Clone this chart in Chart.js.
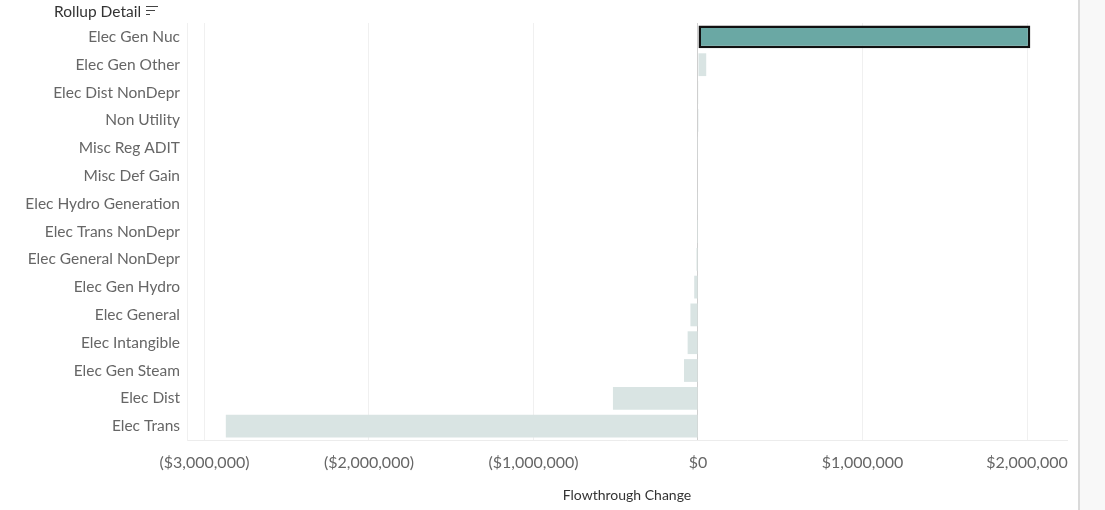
<!DOCTYPE html>
<html><head><meta charset="utf-8">
<script src="https://cdn.jsdelivr.net/npm/chart.js@4"></script>
<style>
html,body{margin:0;padding:0;background:#fff;width:1105px;height:510px;overflow:hidden;font-family:Lato, "Open Sans", sans-serif;}
#wrap{position:absolute;left:0;top:0;width:1105px;height:510px;}
#title{position:absolute;left:54px;top:2px;font-size:15.5px;color:#333;font-family:Lato,sans-serif;}
#icon{display:inline-block;vertical-align:middle;margin-left:5px;position:relative;top:-2px;width:12px;height:11px;}
#icon span{display:block;height:1.7px;background:#444;margin-bottom:2.3px;}
#sideline{position:absolute;left:1078px;top:0;width:2px;height:510px;background:#dadada;}
#side{position:absolute;left:1080px;top:0;width:25px;height:510px;background:#f8f8f8;}
</style></head>
<body>
<div id="wrap"><canvas id="c" width="1105" height="510"></canvas></div>
<div id="title">Rollup Detail<span id="icon"><span style="width:12px"></span><span style="width:9px"></span><span style="width:4px"></span></span></div>
<div id="sideline"></div><div id="side"></div>
<script>
const categories = ["Elec Gen Nuc","Elec Gen Other","Elec Dist NonDepr","Non Utility","Misc Reg ADIT","Misc Def Gain","Elec Hydro Generation","Elec Trans NonDepr","Elec General NonDepr","Elec Gen Hydro","Elec General","Elec Intangible","Elec Gen Steam","Elec Dist","Elec Trans"];
const flowthroughChange = [2020000, 50000, 2000, 1000, -2000, -3000, -4000, -6000, -9000, -23000, -46000, -63000, -85000, -517000, -2870000];
const tickValues = [-3000000, -2000000, -1000000, 0, 1000000, 2000000];
const highlighted = "Elec Gen Nuc";

function fmtMoney(v){
  const s = "$" + Math.abs(v).toLocaleString("en-US");
  return v < 0 ? "(" + s + ")" : s;
}

const fontFam = "Lato, 'Open Sans', sans-serif";
new Chart(document.getElementById("c"), {
  type: "bar",
  data: {
    labels: categories,
    datasets: [{
      data: flowthroughChange,
      backgroundColor: categories.map(c => c === highlighted ? "#6aa8a4" : "#d9e4e3"),
      borderColor: categories.map(c => c === highlighted ? "#111" : "rgba(0,0,0,0)"),
      borderWidth: categories.map(c => c === highlighted ? 2.5 : 0),
      borderSkipped: false,
      categoryPercentage: 1,
      barPercentage: categories.map(c => c === highlighted ? 0.82 : 0.74)
    }]
  },
  options: {
    indexAxis: "y",
    responsive: false,
    animation: false,
    layout: { padding: { left: 0, right: 38, top: 23, bottom: 0 } },
    plugins: { legend: { display: false }, tooltip: { enabled: false } },
    scales: {
      x: {
        min: -3106000, max: 2243000,
        afterBuildTicks: s => { s.ticks = tickValues.map(v => ({ value: v })); },
        afterFit: s => { s.height = 70; },
        ticks: { callback: v => fmtMoney(v), color: "#666", font: { family: fontFam, size: 16 }, padding: 13, maxRotation: 0 },
        grid: { color: ctx => (ctx.tick && ctx.tick.value === 0) ? "#cfcfcf" : "#f0f0f0", drawTicks: false },
        border: { color: "#ececec" },
        title: { display: true, text: "Flowthrough Change", color: "#333", font: { family: fontFam, size: 14 }, padding: { top: 0, bottom: 6 } }
      },
      y: {
        afterFit: s => { s.width = 187; },
        ticks: { color: "#666", font: { family: fontFam, size: 15.5 }, padding: 7, crossAlign: "near" },
        grid: { display: false, drawTicks: false },
        border: { color: "#f0f0f0" }
      }
    }
  }
});
</script>
</body></html>
